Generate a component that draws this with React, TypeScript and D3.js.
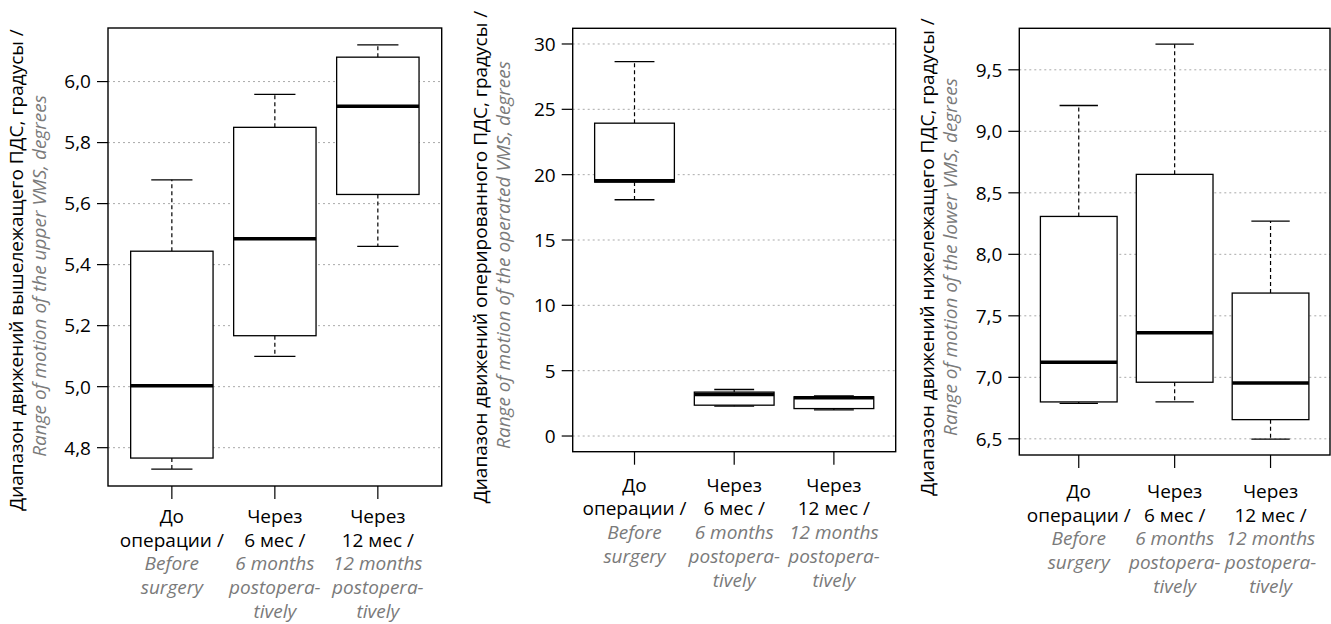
import React from 'react';
import * as d3 from 'd3';

// category labels (russian line + english italic lines)
const catLabelsRu = [['До', 'операции /'], ['Через', '6 мес /'], ['Через', '12 мес /']];
const catLabelsEn = [['Before', 'surgery'], ['6 months', 'postopera-', 'tively'], ['12 months', 'postopera-', 'tively']];

// box stats: [lower whisker, Q1, median, Q3, upper whisker]
const upperStats = [
  [4.73, 4.766, 5.003, 5.444, 5.678],
  [5.099, 5.167, 5.485, 5.85, 5.958],
  [5.46, 5.63, 5.919, 6.08, 6.12],
];
const operatedStats = [
  [18.08, 19.43, 19.53, 23.94, 28.65],
  [2.28, 2.36, 3.18, 3.36, 3.56],
  [2.0, 2.1, 2.92, 3.0, 3.07],
];
const lowerStats = [
  [6.788, 6.8, 7.123, 8.308, 9.21],
  [6.8, 6.96, 7.363, 8.65, 9.709],
  [6.497, 6.656, 6.953, 7.685, 8.27],
];

const upperTicks = [4.8, 5.0, 5.2, 5.4, 5.6, 5.8, 6.0];
const operatedTicks = [0, 5, 10, 15, 20, 25, 30];
const lowerTicks = [6.5, 7.0, 7.5, 8.0, 8.5, 9.0, 9.5];

const titlesRu = [
  'Диапазон движений вышележащего ПДС, градусы /',
  'Диапазон движений оперированного ПДС, градусы /',
  'Диапазон движений нижележащего ПДС, градусы /',
];
const titlesEn = [
  'Range of motion of the upper VMS, degrees',
  'Range of motion of the operated VMS, degrees',
  'Range of motion of the lower VMS, degrees',
];

const FONT = "'Open Sans', 'Noto Sans', sans-serif";
const GREY = '#7a7a7a';
const FS = 19;

const commaFmt = (digits) => (v) => d3.format(`.${digits}f`)(v).replace('.', ',');

const Panel = ({ rect, stats, ticks, ylim, fmt, titleRu, titleEn, titleX, titleY, titleY2, labelOffset }) => {
  const { left, right, top, bottom } = rect;
  const pad = (ylim[1] - ylim[0]) * 0.04;
  const y = d3.scaleLinear().domain([ylim[0] - pad, ylim[1] + pad]).range([bottom, top]);
  const x = d3.scaleLinear().domain([0.5 - 0.12, 3.5 + 0.12]).range([left, right]);
  const boxW = x(1.4) - x(0.6);
  const capW = boxW / 2;

  return (
    <g>
      {/* grid */}
      {ticks.map((t) => (
        <line key={'g' + t} x1={left} x2={right} y1={y(t)} y2={y(t)}
          stroke="#aaa" strokeWidth={1} strokeDasharray="2,3" />
      ))}
      {/* boxes */}
      {stats.map((s, i) => {
        const cx = x(i + 1);
        const [lo, q1, med, q3, hi] = s;
        return (
          <g key={'b' + i}>
            <line x1={cx} x2={cx} y1={y(q3)} y2={y(hi)} stroke="#000" strokeWidth={1.2} strokeDasharray="4,3" />
            <line x1={cx} x2={cx} y1={y(q1)} y2={y(lo)} stroke="#000" strokeWidth={1.2} strokeDasharray="4,3" />
            <line x1={cx - capW / 2} x2={cx + capW / 2} y1={y(hi)} y2={y(hi)} stroke="#000" strokeWidth={1.3} />
            <line x1={cx - capW / 2} x2={cx + capW / 2} y1={y(lo)} y2={y(lo)} stroke="#000" strokeWidth={1.3} />
            <rect x={cx - boxW / 2} y={y(q3)} width={boxW} height={y(q1) - y(q3)}
              fill="#fff" stroke="#000" strokeWidth={1.3} />
            <line x1={cx - boxW / 2} x2={cx + boxW / 2} y1={y(med)} y2={y(med)} stroke="#000" strokeWidth={3.5} />
          </g>
        );
      })}
      {/* frame */}
      <rect x={left} y={top} width={right - left} height={bottom - top} fill="none" stroke="#000" strokeWidth={1.4} />
      {/* y axis */}
      {ticks.map((t) => (
        <g key={'t' + t}>
          <line x1={left - 11} x2={left} y1={y(t)} y2={y(t)} stroke="#000" strokeWidth={1.2} />
          <text x={left - 17} y={y(t)} dy="0.36em" textAnchor="end" fontSize={FS} fontFamily={FONT} fill="#000">
            {fmt(t)}
          </text>
        </g>
      ))}
      {/* x axis */}
      {stats.map((s, i) => {
        const cx = x(i + 1);
        const lines = [...catLabelsRu[i].map((l) => [l, false]), ...catLabelsEn[i].map((l) => [l, true])];
        return (
          <g key={'x' + i}>
            <line x1={cx} x2={cx} y1={bottom} y2={bottom + 13} stroke="#000" strokeWidth={1.2} />
            {lines.map(([l, en], j) => (
              <text key={j} x={cx} y={bottom + labelOffset + j * 23.7} textAnchor="middle" fontSize={FS}
                fontFamily={FONT} fontStyle={en ? 'italic' : 'normal'} fill={en ? GREY : '#000'}>
                {l}
              </text>
            ))}
          </g>
        );
      })}
      {/* axis titles */}
      <text transform={`translate(${titleX},${titleY}) rotate(-90)`} textAnchor="middle"
        fontSize={FS} fontFamily={FONT} fill="#000">{titleRu}</text>
      <text transform={`translate(${titleX + 23},${titleY2}) rotate(-90)`} textAnchor="middle"
        fontSize={FS} fontFamily={FONT} fontStyle="italic" fill={GREY}>{titleEn}</text>
    </g>
  );
};

export default function App() {
  return (
    <svg width={1331} height={624} style={{ position: 'absolute', left: 0, top: 0, background: '#fff' }}>
      <Panel rect={{ left: 108, right: 441.7, top: 28, bottom: 486 }} stats={upperStats}
        ticks={upperTicks} ylim={[4.73, 6.12]} fmt={commaFmt(1)} labelOffset={37}
        titleRu={titlesRu[0]} titleEn={titlesEn[0]} titleX={23} titleY={270} titleY2={276} />
      <Panel rect={{ left: 572.7, right: 895.7, top: 28.3, bottom: 451.7 }} stats={operatedStats}
        ticks={operatedTicks} ylim={[0, 30]} fmt={commaFmt(0)} labelOffset={40}
        titleRu={titlesRu[1]} titleEn={titlesEn[1]} titleX={487} titleY={257} titleY2={255} />
      <Panel rect={{ left: 1019.3, right: 1330, top: 28.3, bottom: 455 }} stats={lowerStats}
        ticks={lowerTicks} ylim={[6.497, 9.709]} fmt={commaFmt(1)} labelOffset={43}
        titleRu={titlesRu[2]} titleEn={titlesEn[2]} titleX={934} titleY={257} titleY2={257} />
    </svg>
  );
}
